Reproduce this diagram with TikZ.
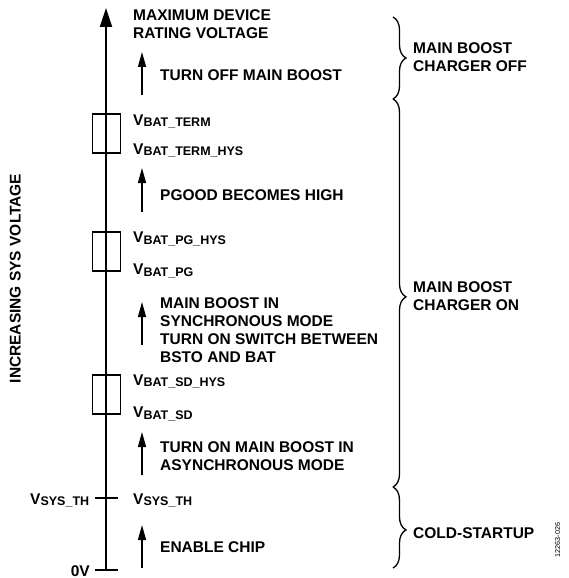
\documentclass[tikz,border=0pt]{standalone}
\usepackage{fontspec}
\setmainfont{Liberation Sans}
\usetikzlibrary{arrows.meta,decorations.pathreplacing}
\newcommand{\vsub}[1]{V{\fontsize{12.5}{12.5}\selectfont\raisebox{-1.8pt}{#1}}}
\tikzset{
  lbl/.style={anchor=base west,inner sep=0pt,font=\fontsize{15.5}{18}\selectfont\bfseries},
  axisline/.style={line width=2pt,-{Triangle[length=19pt,width=12pt]}},
  steparrow/.style={line width=1.3pt,-{Triangle[length=15pt,width=8pt]}},
  thin/.style={line width=1.3pt},
  hbrace/.style={line width=1.3pt,decorate,decoration={brace,amplitude=13pt}},
}
\begin{document}
\begin{tikzpicture}[x=1pt,y=-1pt]
\useasboundingbox (0,0) rectangle (569,578);
% boxes
\draw[thin] (92.5,114) rectangle (120.5,153);
\draw[thin] (92.5,232) rectangle (120.5,271);
\draw[thin] (92.5,375) rectangle (120.5,414);
% ticks
\coordinate (t0a) at (95,570); \coordinate (t0b) at (118,570);
\coordinate (tsa) at (95,498); \coordinate (tsb) at (118,498);
\draw[thin] (t0a) -- (t0b);
\draw[thin] (tsa) -- (tsb);
% main axis
\coordinate (bot) at (106,570);
\coordinate (top) at (106,8);
\draw[axisline] (bot) -- (top);
% step arrows
\coordinate (a1s) at (142,95);  \coordinate (a1e) at (142,52);
\coordinate (a2s) at (142,212); \coordinate (a2e) at (142,168);
\coordinate (a3s) at (142,345); \coordinate (a3e) at (142,302);
\coordinate (a4s) at (142,475); \coordinate (a4e) at (142,432);
\coordinate (a5s) at (142,568); \coordinate (a5e) at (142,525);
\draw[steparrow] (a1s) -- (a1e);
\draw[steparrow] (a2s) -- (a2e);
\draw[steparrow] (a3s) -- (a3e);
\draw[steparrow] (a4s) -- (a4e);
\draw[steparrow] (a5s) -- (a5e);
% labels near axis
\node[lbl] (max1) at (133,20.5) {MAXIMUM DEVICE};
\node[lbl] (max2) at (133,38.7) {RATING VOLTAGE};
\node[lbl] (off) at (160,81) {TURN OFF MAIN BOOST};
\node[lbl] (vterm) at (133,125) {\vsub{BAT\_TERM}};
\node[lbl] (vtermh) at (133,154) {\vsub{BAT\_TERM\_HYS}};
\node[lbl] (pgood) at (160,200.5) {PGOOD BECOMES HIGH};
\node[lbl] (vpgh) at (133,242.7) {\vsub{BAT\_PG\_HYS}};
\node[lbl] (vpg) at (133,274.3) {\vsub{BAT\_PG}};
\node[lbl] (s1) at (160,308.3) {MAIN BOOST IN};
\node[lbl] (s2) at (160,326.3) {SYNCHRONOUS MODE};
\node[lbl] (s3) at (160,344.3) {TURN ON SWITCH BETWEEN};
\node[lbl] (s4) at (160,362.3) {BSTO AND BAT};
\node[lbl] (vsdh) at (133,385) {\vsub{BAT\_SD\_HYS}};
\node[lbl] (vsd) at (133,417.3) {\vsub{BAT\_SD}};
\node[lbl] (as1) at (160,452.3) {TURN ON MAIN BOOST IN};
\node[lbl] (as2) at (160,470.3) {ASYNCHRONOUS MODE};
\node[lbl] (vsys) at (133,504) {\vsub{SYS\_TH}};
\node[lbl] (vsysl) at (30,504) {\vsub{SYS\_TH}};
\node[lbl] (en) at (160,552.5) {ENABLE CHIP};
\node[lbl,anchor=base east] (zero) at (90,576.5) {0V};
% axis title
\node[lbl,anchor=base,rotate=90] (ttl) at (20.5,278.5) {INCREASING SYS VOLTAGE};
% braces
\coordinate (b1a) at (393,17);  \coordinate (b1b) at (393,99);
\coordinate (b2a) at (393,99);  \coordinate (b2b) at (393,487);
\coordinate (b3a) at (393,487); \coordinate (b3b) at (393,568);
\draw[hbrace] (b1a) -- (b1b);
\draw[hbrace,decoration={aspect=0.51}] (b2a) -- (b2b);
\draw[hbrace,decoration={aspect=0.53}] (b3a) -- (b3b);
\node[lbl] (r1a) at (413,53.3) {MAIN BOOST};
\node[lbl] (r1b) at (413,71) {CHARGER OFF};
\node[lbl] (r2a) at (413,292.7) {MAIN BOOST};
\node[lbl] (r2b) at (413,310.7) {CHARGER ON};
\node[lbl] (r3) at (413,538) {COLD-STARTUP};
% figure id
\node[anchor=base,inner sep=0pt,rotate=90,font=\fontsize{7.2}{8}\selectfont] (fid) at (560,540) {12263-026};
\end{tikzpicture}
\end{document}
